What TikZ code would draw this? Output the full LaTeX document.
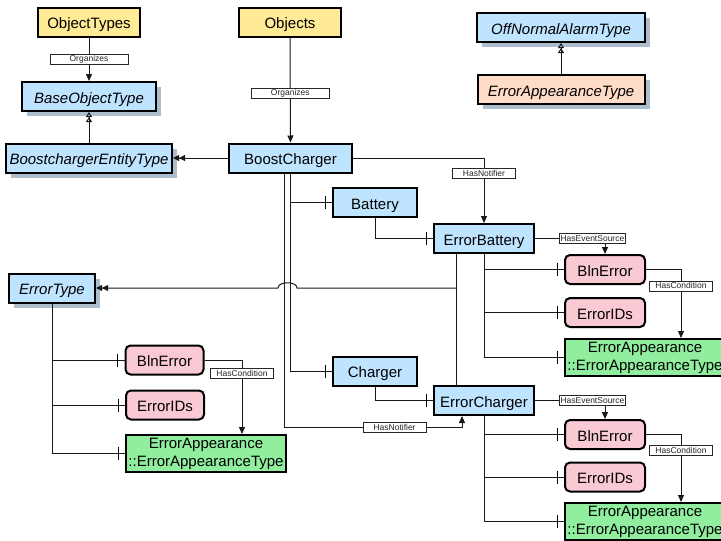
\documentclass[tikz,border=0pt]{standalone}
\usepackage{fontspec}
\setmainfont{Liberation Sans}
\usetikzlibrary{arrows.meta,shadows,decorations.markings,calc}
\definecolor{mblue}{HTML}{BFE4FF}
\definecolor{myellow}{HTML}{FFEA96}
\definecolor{mpink}{HTML}{F9C9D4}
\definecolor{mgreen}{HTML}{90EE9E}
\definecolor{mpeach}{HTML}{FFDCC8}
\definecolor{mshadow}{HTML}{97ACC1}
\tikzstyle{box}=[draw=black, line width=2, minimum height=29, inner sep=2, font=\fontsize{15}{18}\selectfont]
\tikzstyle{oneline}=[box, text height=13, text depth=0]
\tikzstyle{typebox}=[oneline, fill=mblue, font=\fontsize{15}{18}\selectfont\itshape, drop shadow={shadow xshift=5pt, shadow yshift=-5pt, fill=mshadow, opacity=0.8}]
\tikzstyle{objbox}=[oneline, fill=mblue]
\tikzstyle{folder}=[oneline, fill=myellow]
\tikzstyle{varbox}=[oneline, fill=mpink, rounded corners=5]
\tikzstyle{eabox}=[box, fill=mgreen, align=center, minimum height=37, minimum width=160]
\tikzstyle{lbl}=[draw=black!85, fill=white, line width=0.6, inner sep=1, minimum width=63, minimum height=10, font=\fontsize{8.5}{9}\selectfont, text=black!85]
\tikzstyle{l1}=[line width=1, draw=black!90]
\tikzstyle{refto}=[l1, -{Triangle[length=7pt,width=6pt]}]
\tikzstyle{typedef}=[l1, -{Triangle[length=6pt,width=6pt]Triangle[length=6pt,width=6pt]}]
\tikzstyle{subtype}=[l1, -{Triangle[open,length=5pt,width=6pt]Triangle[open,length=5pt,width=6pt]}]
\tikzstyle{hascomp}=[l1, postaction={decorate}, decoration={markings, mark=at position -7pt with {\draw[line width=1, black] (0,-6.5pt) -- (0,6.5pt);}}]

\begin{document}
\begin{tikzpicture}[x=1pt, y=-1pt]

    \useasboundingbox (0,0) rectangle (721,541);
    \clip (0,0) rectangle (721,541);

    \node[folder, minimum width=102] at (89,22) (objtypes) {ObjectTypes};
    \node[folder, minimum width=102] at (290,22) (objects) {Objects};
    \node[typebox, minimum width=134] at (89,96.5) (baseobj) {BaseObjectType};
    \node[typebox, minimum width=166] at (89,158) (bcet) {BoostchargerEntityType};
    \node[objbox, minimum width=123] at (290.5,158) (boost) {BoostCharger};
    \node[typebox, minimum width=168] at (561,27.5) (offnorm) {OffNormalAlarmType};
    \node[typebox, fill=mpeach, minimum width=167] at (561,89.5) (eat) {ErrorAppearanceType};

    \node[objbox, minimum width=84] at (375,202.5) (battery) {Battery};
    \node[objbox, minimum width=100] at (484,238.5) (errbat) {ErrorBattery};
    \node[varbox, minimum width=80] at (605,269.5) (blnerr1) {BlnError};
    \node[varbox, minimum width=80] at (605,312.5) (errids1) {ErrorIDs};
    \node[eabox] at (645,357.5) (ea1) {ErrorAppearance\\::ErrorAppearanceType};

    \node[typebox, minimum width=86] at (52,288) (errtype) {ErrorType};
    \node[varbox, minimum width=78] at (164.5,360) (blnerr0) {BlnError};
    \node[varbox, minimum width=78] at (165,405) (errids0) {ErrorIDs};
    \node[eabox] at (206,453.5) (ea0) {ErrorAppearance\\::ErrorAppearanceType};

    \node[objbox, minimum width=84] at (375,371) (charger) {Charger};
    \node[objbox, minimum width=100] at (484,400.5) (errchg) {ErrorCharger};
    \node[varbox, minimum width=80] at (605,434.5) (blnerr2) {BlnError};
    \node[varbox, minimum width=80] at (605,477) (errids2) {ErrorIDs};
    \node[eabox] at (645,521.5) (ea2) {ErrorAppearance\\::ErrorAppearanceType};

    \draw[refto] (objtypes) -- node[lbl, minimum width=78]{Organizes} (baseobj);
    \draw[refto] (objects) -- node[lbl, minimum width=78, pos=0.53]{Organizes} (boost);
    \draw[subtype] (bcet) -- (baseobj);
    \draw[subtype] (eat) -- (offnorm);
    \draw[typedef] (boost) -- (bcet);
    \draw[refto] (boost.east) -| node[lbl, pos=0.62]{HasNotifier} (errbat.north);

    \draw[hascomp] (boost.south) |- (battery.west);
    \draw[hascomp] (boost.south) |- (charger.west);
    \coordinate (n2) at ($(errchg.south)+(-22,11)$);
    \draw[refto] ([xshift=-6]boost.south) |- node[lbl, pos=0.81]{HasNotifier} (n2) -- ([xshift=-22]errchg.south);
    \draw[hascomp] (battery.south) |- (errbat.west);
    \draw[hascomp] (charger.south) |- (errchg.west);

    \draw[l1] ([xshift=-28]errbat.south) -- ([xshift=-28]errchg.north);
    \coordinate (tj) at ([xshift=-28]errbat.south |- errtype.east);
    \draw[typedef] (tj) -- (297,288) .. controls (297,281) and (278,281) .. (278,288) -- (errtype.east);

    \draw[refto] (errbat.east) -| node[lbl, pos=0.41]{HasEventSource} (blnerr1.north);
    \draw[refto] (blnerr1.east) -| node[lbl, pos=0.62]{HasCondition} ([xshift=36]ea1.north);
    \foreach \n in {blnerr1, errids1, ea1}
        \draw[hascomp] (errbat.south) |- (\n.west);

    \draw[refto] (errchg.east) -| node[lbl, pos=0.41]{HasEventSource} (blnerr2.north);
    \draw[refto] (blnerr2.east) -| node[lbl, pos=0.62]{HasCondition} ([xshift=36]ea2.north);
    \foreach \n in {blnerr2, errids2, ea2}
        \draw[hascomp] (errchg.south) |- (\n.west);

    \draw[refto] (blnerr0.east) -| node[lbl, pos=0.59]{HasCondition} ([xshift=36]ea0.north);
    \foreach \n in {blnerr0, errids0, ea0}
        \draw[hascomp] (errtype.south) |- (\n.west);

\end{tikzpicture}
\end{document}
